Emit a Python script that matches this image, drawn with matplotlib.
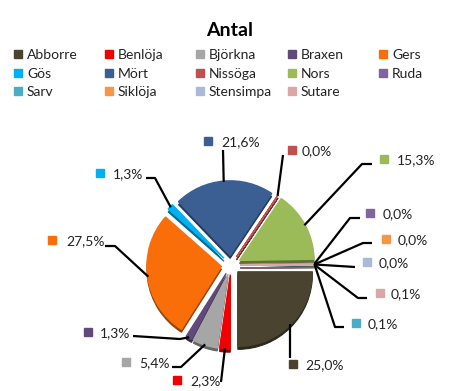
import matplotlib
matplotlib.use("Agg")
import matplotlib.pyplot as plt
import matplotlib.colors as mcolors
import numpy as np

# ---------------- data ----------------
species = ["Abborre", "Benlöja", "Björkna", "Braxen", "Gers", "Gös", "Mört",
           "Nissöga", "Nors", "Ruda", "Sarv", "Siklöja", "Stensimpa", "Sutare"]
values = [25.0, 2.3, 5.4, 1.3, 27.5, 1.3, 21.6, 0.04, 15.3, 0.02, 0.1, 0.02, 0.01, 0.1]
pct_labels = ["25,0%", "2,3%", "5,4%", "1,3%", "27,5%", "1,3%", "21,6%",
              "0,0%", "15,3%", "0,0%", "0,1%", "0,0%", "0,0%", "0,1%"]
colors = ["#4A4330", "#F00000", "#A6A6A6", "#604A7B", "#FA6E0A", "#00B0F0",
          "#3B5F92", "#C0504D", "#9BBB59", "#8064A2", "#4BACC6", "#F79646",
          "#A9BAD9", "#DBA7A6"]
title = "Antal"

# ---------------- layout (pixel space) ----------------
W, H = 461, 391
FONT = ["Lato", "DejaVu Sans"]

fig = plt.figure(figsize=(W / 100, H / 100), dpi=100)
ax = fig.add_axes([0, 0, 1, 1])

def Y(py):
    return H - py

cx, cy = 231, Y(265)
R = 74.5
expl = 0.13 * R  # offset in data (pixel) units

# 3D-ish side (darker, shifted down)
dark = [tuple(np.array(mcolors.to_rgb(c)) * 0.6) for c in colors]
shadow, _ = ax.pie(values, colors=dark, startangle=0, counterclock=False,
                   explode=[expl] * len(values), radius=R, center=(cx, cy - 3),
                   wedgeprops=dict(linewidth=0.8), frame=True)
for w, c in zip(shadow, dark):
    w.set_edgecolor(c)

wedges, _ = ax.pie(values, colors=colors, startangle=0, counterclock=False,
                   explode=[expl] * len(values), radius=R, center=(cx, cy),
                   wedgeprops=dict(linewidth=1.0), frame=True)
for w, c in zip(wedges, colors):
    w.set_edgecolor(c)
ax.set_xlim(0, W)
ax.set_ylim(0, H)
ax.set_aspect("auto")
ax.axis("off")

# label layout: marker centre, text left x, leader-line points from label side
label_layout = {
    "Abborre":   ((293, 364), 305, [(290, 358)]),
    "Benlöja":   ((177, 380), 190, [(221, 382)]),
    "Björkna":   ((126, 362), 139, [(172, 367), (181, 367)]),
    "Braxen":    ((88, 332), 100, [(133, 336), (180, 339)]),
    "Gers":      ((52, 240), 66, [(105, 246), (115, 246)]),
    "Gös":       ((100, 173), 113, [(146, 178), (155, 178)]),
    "Mört":      ((208, 141), 221, [(223, 150)]),
    "Nissöga":   ((292, 150), 302, [(283, 155)]),
    "Nors":      ((384, 159), 397, [(372, 164), (362, 164)]),
    "Ruda":      ((370, 213), 383, [(360, 218), (350, 218)]),
    "Sarv":      ((356, 323), 368, [(344, 327), (335, 327)]),
    "Siklöja":   ((386, 239), 398, [(372, 243), (363, 243)]),
    "Stensimpa": ((367, 262), 379, [(355, 267)]),
    "Sutare":    ((380, 293), 391, [(367, 298), (358, 298)]),
}

for w, name, lab, col in zip(wedges, species, pct_labels, colors):
    ang = np.deg2rad((w.theta1 + w.theta2) / 2)
    wx, wy = w.center
    ax_pt = (wx + R * 0.99 * np.cos(ang), wy + R * 0.99 * np.sin(ang))
    (mx, my), tx, pts = label_layout[name]
    xs = [p[0] for p in pts] + [ax_pt[0]]
    ys = [Y(p[1]) for p in pts] + [ax_pt[1]]
    ax.plot(xs, ys, color="black", lw=1.6, solid_capstyle="butt", zorder=5)
    ax.plot([mx], [Y(my)], marker="s", ms=5.5, color=col, mec=col, zorder=6)
    ax.text(tx, Y(my + 1), lab, fontsize=10, family=FONT, va="center", ha="left",
            color="#222222", zorder=6)

# title
ax.text(230, Y(31), title, fontsize=14, fontweight="bold", family=FONT,
        ha="center", va="center", color="black")

# legend (row-major, 5 columns)
col_x = [18, 109, 200, 292, 383]
row_y = [54, 73, 91]
for i, (name, col) in enumerate(zip(species, colors)):
    r, c = divmod(i, 5)
    ax.plot([col_x[c]], [Y(row_y[r])], marker="s", ms=5.5, color=col, mec=col)
    ax.text(col_x[c] + 9, Y(row_y[r] + 1), name, fontsize=10, family=FONT,
            va="center", ha="left", color="#222222")

fig.savefig("out.png", dpi=100)
